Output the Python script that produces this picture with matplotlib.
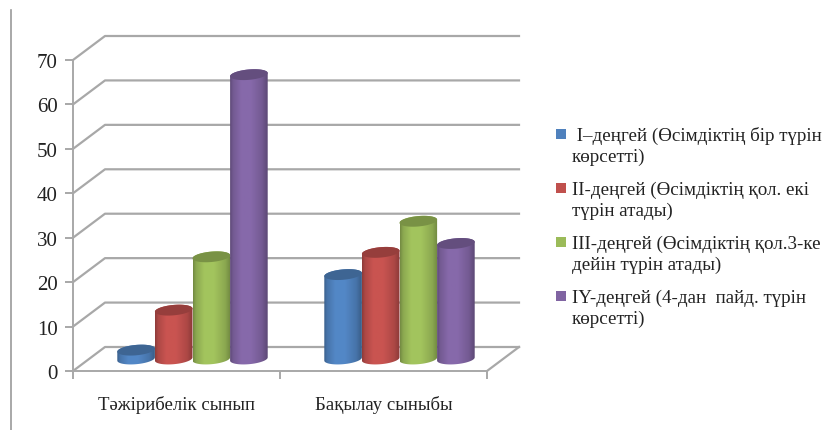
import numpy as np
import matplotlib
matplotlib.use("Agg")
import matplotlib.pyplot as plt
from matplotlib.lines import Line2D
from matplotlib.patches import Patch, Rectangle, Polygon
from matplotlib.path import Path
from matplotlib.legend_handler import HandlerPatch

categories = ["Тәжірибелік сынып", "Бақылау сыныбы"]
series_names = [
    " I–деңгей (Өсімдіктің бір түрін\nкөрсетті)",
    "II-деңгей (Өсімдіктің қол. екі\nтүрін атады)",
    "III-деңгей (Өсімдіктің қол.3-ке\nдейін түрін атады)",
    "IY-деңгей (4-дан  пайд. түрін\nкөрсетті)",
]
level1 = [2, 19]
level2 = [11, 24]
level3 = [23, 31]
level4 = [64, 26]
series = [level1, level2, level3, level4]
colors = ["#4f81bd", "#c0504d", "#9bbb59", "#8064a2"]
yticks = [0, 10, 20, 30, 40, 50, 60, 70]

plt.rcParams["font.family"] = ["Liberation Serif", "DejaVu Serif"]
W, H = 825, 431
fig = plt.figure(figsize=(W / 100, H / 100), dpi=100, facecolor="white")
L, R, T, B = 73, 487, 61, 372
ax = fig.add_axes([L / W, 1 - B / H, (R - L) / W, (B - T) / H])
ax.set_xlim(0, 2)
ax.set_ylim(0, 70)
ax.patch.set_visible(False)

px = (R - L) / 2          # pixels per category
py = (B - T) / 70         # pixels per value unit
grid = "#a8a8a8"
wall_dx, wall_dy = 32 / px, 24 / py

for sp in ("top", "right"):
    ax.spines[sp].set_visible(False)
for sp in ("left", "bottom"):
    ax.spines[sp].set_color(grid)
    ax.spines[sp].set_linewidth(1.4)

ax.set_yticks(yticks)
ax.set_xticks([0, 1, 2])
ax.set_xticklabels([])
ax.set_xticks([0.5, 1.5], minor=True)
ax.set_xticklabels(categories, minor=True, fontsize=13.5, color="#222222")
ax.tick_params(axis="x", which="minor", length=0, pad=17)
ax.tick_params(axis="x", which="major", length=6, width=1.4, color=grid)
ax.tick_params(axis="y", length=6, width=1.4, color=grid, labelsize=15,
               labelcolor="#222222", pad=5)

# walls and floor of the 3D box
for v in yticks:
    ax.plot([0, wall_dx, 2 + wall_dx], [v, v + wall_dy, v + wall_dy],
            color=grid, lw=1.6, clip_on=False, zorder=1)
ax.plot([2, 2 + wall_dx], [0, wall_dy], color=grid, lw=1.6, clip_on=False, zorder=1)


def shade(hex_color):
    base = np.array(matplotlib.colors.to_rgb(hex_color))
    t = np.linspace(0, 1, 96)
    k = np.interp(t, [0, 0.08, 0.3, 0.55, 0.85, 1], [0.74, 0.9, 1.05, 1.05, 0.9, 0.72])
    return np.clip(base[None, None, :] * k[None, :, None], 0, 1)


bar_w = 37.6 / px
mid_dx, mid_dy = 16 / px, 12 / py
rx, ry, tilt = bar_w / 2, 5.2 / py, 0.085 * px / py * 1.0
theta = np.linspace(0, 2 * np.pi, 100)


def ellipse(cx, cy, th):
    ox = rx * np.cos(th)
    return cx + ox, cy + ry * np.sin(th) + tilt * ox


for i, (vals, col) in enumerate(zip(series, colors)):
    for j, v in enumerate(vals):
        cx = j + 0.5 + (i - 1.5) * bar_w + mid_dx
        cy0, cy1 = mid_dy, v + mid_dy
        xb, yb = ellipse(cx, cy0, np.linspace(np.pi, 2 * np.pi, 50))
        xt, yt = ellipse(cx, cy1, np.linspace(0, np.pi, 50))
        verts = np.column_stack([np.r_[xb, xt], np.r_[yb, yt]])
        z = 3 + i + j * 10
        im = ax.imshow(shade(col), extent=(cx - rx, cx + rx, cy0 - 5, cy1 + 5),
                       aspect="auto", origin="lower", zorder=z, interpolation="bilinear")
        im.set_clip_box(None)
        im.set_clip_path(Path(np.vstack([verts, verts[0]]), closed=True), ax.transData)
        ex, ey = ellipse(cx, cy1, theta)
        dark = tuple(c * 0.78 for c in matplotlib.colors.to_rgb(col))
        ax.add_patch(Polygon(np.column_stack([ex, ey]), closed=True, facecolor=dark,
                             edgecolor="none", clip_on=False, zorder=z + 0.5))
ax.set_xlim(0, 2)
ax.set_ylim(0, 70)


class ShiftedSquare(HandlerPatch):
    def create_artists(self, legend, orig, xd, yd, width, height, fontsize, trans):
        s = 7.2
        r = Rectangle((width - s, 9.5), s, s, facecolor=orig.get_facecolor(),
                      edgecolor="none", transform=trans)
        return [r]


handles = [Patch(facecolor=c) for c in colors]
leg = fig.legend(handles, series_names, loc="upper left",
                 bbox_to_anchor=(545 / W, 1 - 123.5 / H), bbox_transform=fig.transFigure,
                 frameon=False, fontsize=13.7, labelcolor="#222222", labelspacing=0.82,
                 handlelength=0.9, handletextpad=0.3, borderpad=0.2, borderaxespad=0,
                 handler_map={Patch: ShiftedSquare()})
for t in leg.get_texts():
    t.set_linespacing(1.28)

# thin frame line on the left of the picture
fig.add_artist(Line2D([11 / W, 11 / W], [0, 1 - 11 / H], color="#9a9a9a", lw=1.2))

fig.savefig("out.png", dpi=100)
